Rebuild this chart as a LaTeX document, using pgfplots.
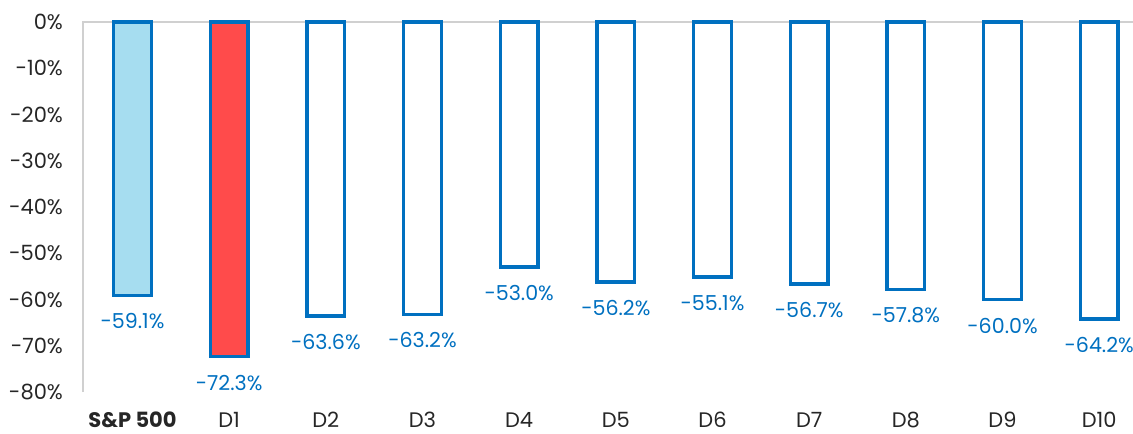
\documentclass[border=0pt]{standalone}
\usepackage{pgfplots}
\pgfplotsset{compat=1.18}
\usepackage{fontspec}
\setmainfont{Poppins}
\definecolor{outl}{HTML}{0070C0}
\definecolor{lightb}{HTML}{A6DDF0}
\definecolor{redb}{HTML}{FF4B4B}
\definecolor{txt}{HTML}{262626}
\definecolor{axg}{HTML}{D0D0D0}
\begin{document}
\begin{tikzpicture}
\begin{axis}[
  scale only axis,
  width=525pt, height=185pt,
  xmin=-0.512, xmax=10.35,
  ymin=-80, ymax=0,
  axis line style={draw=none},
  clip=false,
  major tick length=0pt,
  ytick={-80,-70,-60,-50,-40,-30,-20,-10,0},
  yticklabels={-80\%,-70\%,-60\%,-50\%,-40\%,-30\%,-20\%,-10\%,0\%},
  yticklabel style={font=\fontsize{10.5}{12}\selectfont, text=txt, xshift=-6.5pt},
  xtick={0,1,2,3,4,5,6,7,8,9,10},
  xticklabels={\textbf{S\&P 500},D1,D2,D3,D4,D5,D6,D7,D8,D9,D10},
  xticklabel style={font=\fontsize{10.5}{12}\selectfont, text=txt, yshift=-6.5pt},
  ybar, bar width=0.39,
  every axis plot/.append style={bar shift=0pt},
  point meta=explicit symbolic,
  nodes near coords,
  every node near coord/.append style={font=\fontsize{10.3}{12}\selectfont, text=outl, anchor=north, yshift=-5pt},
]
\draw[axg, line width=1.2pt] (rel axis cs:0,0) -- (rel axis cs:0,1) -- (rel axis cs:1,1);
\addplot[draw=outl, fill=lightb, line width=1.8pt] coordinates {(0,-59.1) [-59.1\%]};
\addplot[draw=outl, fill=redb, line width=1.8pt] coordinates {(1,-72.3) [-72.3\%]};
\addplot[draw=outl, fill=white, line width=1.8pt] coordinates {
(2,-63.6) [-63.6\%]
(3,-63.2) [-63.2\%]
(4,-53.0) [-53.0\%]
(5,-56.2) [-56.2\%]
(6,-55.1) [-55.1\%]
(7,-56.7) [-56.7\%]
(8,-57.8) [-57.8\%]
(9,-60.0) [-60.0\%]
(10,-64.2) [-64.2\%]
};
\coordinate (bl) at (rel axis cs:0,0);
\coordinate (tr) at (rel axis cs:1,1);
\end{axis}
\pgfresetboundingbox
\path[use as bounding box] ([shift={(-41.5pt,-20.5pt)}]bl) rectangle ([shift={(0pt,11pt)}]tr);
\end{tikzpicture}
\end{document}
